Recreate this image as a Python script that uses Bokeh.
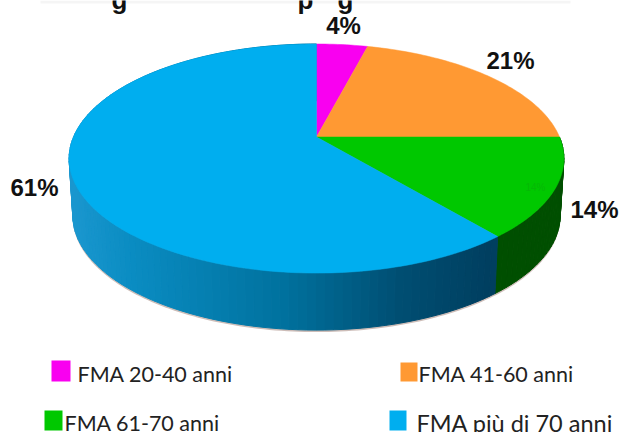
from math import sin, cos, pi
from bokeh.plotting import figure
from bokeh.core.properties import value
from bokeh.embed import file_html
from bokeh.resources import INLINE

categories = ["FMA 20-40 anni", "FMA 41-60 anni", "FMA 61-70 anni", "FMA più di 70 anni"]
shares = [4, 21, 14, 61]
share_labels = ["4%", "21%", "14%", "61%"]
top_colors = ["#F900F0", "#FF9933", "#00C800", "#00AEEF"]
wall_colors = ["#F900F0", "#FF9933", "#004F00", "#00AEEF"]
title_fragments = ["g", "p", "g"]

AX, AY = 316, 136.5      # apex of the pie on the page
RX, RY, K = 243, 110.5, 0.188  # perspective of the disc
DEPTH, SHRINK = 57, 0.985

p = figure(width=620, height=432, x_range=(0, 620), y_range=(432, 0),
           toolbar_location=None, output_backend="svg", min_border=0,
           outline_line_color=None,
           background_fill_color="white", border_fill_color="white")
p.axis.visible = False
p.grid.visible = False


def project(t):
    u, v = sin(t), cos(t)
    d = 1 + K * v
    return AX + RX * u / d, AY - RY * v / d


def lower(x, y):
    return AX + (x - AX) * SHRINK, y + DEPTH


def lerp_hex(stops, x):
    for (x0, c0), (x1, c1) in zip(stops, stops[1:]):
        if x <= x1:
            f = max(0.0, (x - x0) / (x1 - x0))
            break
    else:
        f, c0, c1 = 1.0, stops[-1][1], stops[-1][1]
    a = [int(c0[i:i + 2], 16) for i in (1, 3, 5)]
    b = [int(c1[i:i + 2], 16) for i in (1, 3, 5)]
    return "#%02x%02x%02x" % tuple(round(m + (n - m) * f) for m, n in zip(a, b))


BLUE_STOPS = [(70, "#1A97CF"), (130, "#0A8CC2"), (280, "#00729F"), (400, "#004E72"), (490, "#003F60")]

# boundaries from the values
cum = [0]
for s in shares:
    cum.append(cum[-1] + s)
edges = [c / sum(shares) * 2 * pi for c in cum]


def arc(a, b, step=0.02):
    n = max(2, int((b - a) / step))
    return [a + (b - a) * i / n for i in range(n + 1)]


# soft shadow under the wall
ts = arc(pi * 0.45, pi * 1.55)
sx = [lower(*project(t))[0] for t in ts]
sy = [lower(*project(t))[1] + 2 for t in ts]
p.patch(sx + [AX], sy + [AY], fill_color="#CDBDB8", line_color=None)

# side wall, front slices only
xs, ys, cols = [], [], []
for i in (2, 3):
    ts = arc(edges[i], edges[i + 1], 0.03)
    for a, b in zip(ts, ts[1:]):
        xa, ya = project(a)
        xb, yb = project(b)
        la, lb = lower(xa, ya), lower(xb, yb)
        xs.append([xa, xb, lb[0], la[0]])
        ys.append([ya, yb, lb[1], la[1]])
        cols.append(wall_colors[2] if i == 2 else lerp_hex(BLUE_STOPS, (xa + xb) / 2))
p.patches(xs, ys, fill_color=cols, line_color=cols, line_width=1)

# top faces
xs, ys = [], []
for i in range(4):
    ts = arc(edges[i], edges[i + 1])
    pts = [project(t) for t in ts]
    xs.append([AX] + [q[0] for q in pts])
    ys.append([AY] + [q[1] for q in pts])
p.patches(xs, ys, fill_color=top_colors, line_color=top_colors, line_width=0.5)

# percent labels
p.text([343, 510, 594, 34], [25, 60, 209, 187], text=share_labels,
       text_font=value("Liberation Sans"), text_font_style="bold", text_font_size="24px",
       text_color="#111111", text_align="center", text_baseline="middle")
# ghost label inside the green slice
p.text([535], [187], text=[share_labels[2]], text_font=value("Liberation Sans"),
       text_font_size="10px", text_color="#05B805", text_align="center", text_baseline="middle")

# what is left of the cropped heading
p.quad(left=[40], right=[570], top=[0], bottom=[3], fill_color="#F5F5F5", line_color=None)
p.text([119, 305, 345], [-1, -1, -1], text=title_fragments, text_font=value("Liberation Sans"),
       text_font_style="bold", text_font_size="26px", text_color="#111111",
       text_align="center", text_baseline="alphabetic")

# legend
p.quad(left=[51, 400, 44, 389], right=[70, 417, 62, 406],
       top=[360, 362, 410, 410], bottom=[381, 381, 430, 430],
       fill_color=top_colors, line_color=None)
p.text([77, 418, 64], [373, 373, 422], text=categories[:3],
       text_font=value("Lato"), text_font_size="21.5px", text_color="#222222",
       text_align="left", text_baseline="middle")
p.text([416], [422], text=categories[3:],
       text_font=value("Lato"), text_font_size="23.5px", text_color="#222222",
       text_align="left", text_baseline="middle")

open("out.html", "w").write(file_html(p, INLINE))
